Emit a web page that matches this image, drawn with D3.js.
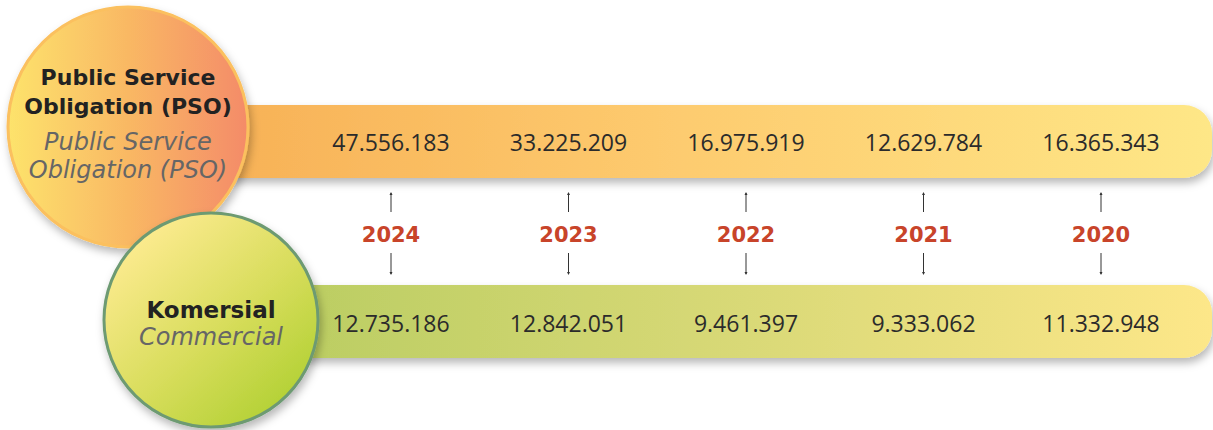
<!DOCTYPE html>
<html>
  <head>
    <script src="https://d3js.org/d3.v7.min.js"></script>
    <style>
      body { margin: 0; background: #fff; }
      text { font-family: "DejaVu Sans", sans-serif; }
      .num { font-family: "Open Sans", sans-serif; }
    </style>
  </head>
  <body>
    <script>
      // data
      var years = ["2024", "2023", "2022", "2021", "2020"];
      var psoValues = [47556183, 33225209, 16975919, 12629784, 16365343];
      var commercialValues = [12735186, 12842051, 9461397, 9333062, 11332948];
      var psoLabel = ["Public Service", "Obligation (PSO)"];
      var psoLabelEn = ["Public Service", "Obligation (PSO)"];
      var comLabel = ["Komersial"];
      var comLabelEn = ["Commercial"];

      var width = 1213, height = 430;

      var idFmt = d3.formatLocale({decimal: ",", thousands: ".", grouping: [3], currency: ["", ""]}).format(",d");

      var x = d3.scalePoint().domain(years).range([391, 1101]);

      var svg = d3.select("body").append("svg")
        .attr("width", width)
        .attr("height", height);

      var defs = svg.append("defs");

      // drop shadow
      var f = defs.append("filter").attr("id", "shadow")
        .attr("x", "-10%").attr("y", "-20%").attr("width", "130%").attr("height", "160%");
      f.append("feDropShadow")
        .attr("dx", 2).attr("dy", 5).attr("stdDeviation", 4)
        .attr("flood-color", "#000").attr("flood-opacity", 0.28);

      function linGrad(id, stops, x1, y1, x2, y2) {
        var g = defs.append("linearGradient").attr("id", id)
          .attr("x1", x1).attr("y1", y1).attr("x2", x2).attr("y2", y2);
        stops.forEach(function(s) {
          g.append("stop").attr("offset", s[0]).attr("stop-color", s[1]);
        });
      }
      linGrad("gOrangeBand", [["0%", "#f7b055"], ["45%", "#fdca6e"], ["100%", "#fee787"]], "0%", "0%", "100%", "0%");
      linGrad("gGreenBand", [["0%", "#bacd62"], ["50%", "#d9d977"], ["100%", "#fde789"]], "0%", "0%", "100%", "0%");
      linGrad("gOrangeCircle", [["0%", "#fde36c"], ["50%", "#f9b864"], ["100%", "#f48b68"]], "0%", "0%", "100%", "0%");
      linGrad("gGreenCircle", [["0%", "#fdeb90"], ["55%", "#d8dd5c"], ["100%", "#b3d135"]], "15%", "10%", "85%", "90%");

      // bands
      svg.append("rect")
        .attr("x", 200).attr("y", 105)
        .attr("width", 1212 - 200).attr("height", 73)
        .attr("rx", 28)
        .attr("fill", "url(#gOrangeBand)")
        .attr("filter", "url(#shadow)");

      svg.append("rect")
        .attr("x", 280).attr("y", 285)
        .attr("width", 1212 - 280).attr("height", 73)
        .attr("rx", 28)
        .attr("fill", "url(#gGreenBand)")
        .attr("filter", "url(#shadow)");

      // circles
      svg.append("circle")
        .attr("cx", 128).attr("cy", 127).attr("r", 120)
        .attr("fill", "url(#gOrangeCircle)")
        .attr("stroke", "#fbc05e").attr("stroke-width", 3)
        .attr("filter", "url(#shadow)");

      svg.append("circle")
        .attr("cx", 211).attr("cy", 320).attr("r", 107)
        .attr("fill", "url(#gGreenCircle)")
        .attr("stroke", "#6d9a72").attr("stroke-width", 3)
        .attr("filter", "url(#shadow)");

      // circle labels
      var t1 = svg.append("text").attr("text-anchor", "middle").attr("fill", "#222")
        .style("font-size", "22px").style("font-weight", 700);
      psoLabel.forEach(function(s, i) {
        t1.append("tspan").attr("x", 128).attr("y", 85 + i * 29).text(s);
      });
      var t2 = svg.append("text").attr("text-anchor", "middle").attr("fill", "#666")
        .style("font-size", "24px").style("font-style", "italic").style("font-weight", 200);
      psoLabelEn.forEach(function(s, i) {
        t2.append("tspan").attr("x", 128).attr("y", 150 + i * 28).text(s);
      });
      svg.append("text").attr("text-anchor", "middle").attr("fill", "#222")
        .attr("x", 211).attr("y", 318)
        .style("font-size", "23px").style("font-weight", 700)
        .text(comLabel[0]);
      svg.append("text").attr("text-anchor", "middle").attr("fill", "#666")
        .attr("x", 211).attr("y", 345)
        .style("font-size", "24px").style("font-style", "italic").style("font-weight", 200)
        .text(comLabelEn[0]);

      // values
      svg.selectAll(".pso").data(years).enter().append("text")
        .attr("class", "pso num")
        .attr("x", function(d) { return x(d); })
        .attr("y", 151)
        .attr("text-anchor", "middle").attr("fill", "#2b2b2b")
        .style("font-size", "23px")
        .text(function(d, i) { return idFmt(psoValues[i]); });

      svg.selectAll(".com").data(years).enter().append("text")
        .attr("class", "com num")
        .attr("x", function(d) { return x(d); })
        .attr("y", 332)
        .attr("text-anchor", "middle").attr("fill", "#2b2b2b")
        .style("font-size", "23px")
        .text(function(d, i) { return idFmt(commercialValues[i]); });

      // years and arrows
      svg.selectAll(".yr").data(years).enter().append("text")
        .attr("class", "yr")
        .attr("x", function(d) { return x(d); })
        .attr("y", 242)
        .attr("text-anchor", "middle").attr("fill", "#c8442a")
        .style("font-size", "21px").style("font-weight", 700)
        .text(function(d) { return d; });

      var ar = svg.selectAll(".arr").data(years).enter().append("g")
        .attr("transform", function(d) { return "translate(" + x(d) + ",0)"; })
        .attr("stroke", "#333").attr("fill", "#333");
      ar.append("line").attr("x1", 0).attr("x2", 0).attr("y1", 193).attr("y2", 212).attr("stroke-width", 1);
      ar.append("path").attr("d", "M-1.5,195 L0,192 L1.5,195 Z").attr("stroke", "none");
      ar.append("line").attr("x1", 0).attr("x2", 0).attr("y1", 253).attr("y2", 274).attr("stroke-width", 1);
      ar.append("path").attr("d", "M-1.5,272 L0,275 L1.5,272 Z").attr("stroke", "none");
    </script>
  </body>
</html>
